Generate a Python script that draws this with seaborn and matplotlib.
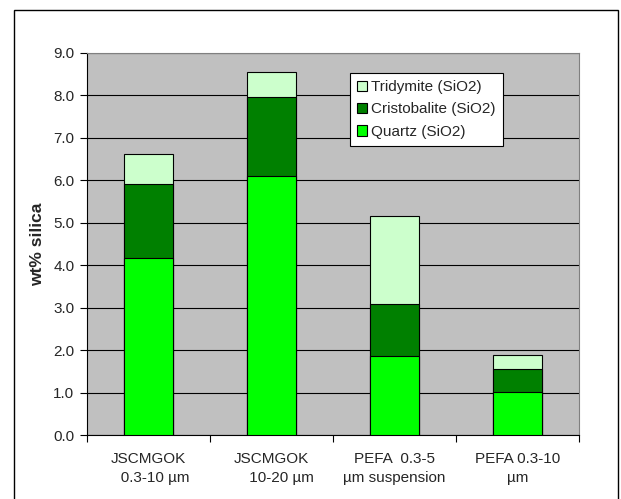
import numpy as np
import pandas as pd
import matplotlib
matplotlib.use("Agg")
import matplotlib.pyplot as plt
import seaborn as sns
from matplotlib.patches import Rectangle

# =========================
# Data
# =========================
categories = ["JSCMGOK\n   0.3-10 µm", "JSCMGOK\n     10-20 µm",
              "PEFA  0.3-5\nµm suspension", "PEFA 0.3-10\nµm"]
quartz = [4.16, 6.09, 1.87, 1.01]
cristobalite = [1.75, 1.87, 1.21, 0.55]
tridymite = [0.72, 0.58, 2.09, 0.32]

df = pd.DataFrame({
    "sample": categories,
    "Quartz": quartz,
    "Cristobalite": cristobalite,
    "Tridymite": tridymite,
})
df["q_top"] = df["Quartz"]
df["c_top"] = df["q_top"] + df["Cristobalite"]
df["t_top"] = df["c_top"] + df["Tridymite"]

# =========================
# Style
# =========================
sns.set_style("white")
plt.rcParams["font.family"] = ["Liberation Sans", "DejaVu Sans"]

fig = plt.figure(figsize=(6.21, 4.99), dpi=100)
ax = fig.add_axes([0.140, 0.128, 0.792, 0.766])
ax.set_facecolor("#C0C0C0")

# stacked bars: draw the totals first, then cover with the lower parts
layers = [("t_top", "#CCFFCC", "Tridymite (SiO2)"),
          ("c_top", "#008000", "Cristobalite (SiO2)"),
          ("q_top", "#00FF00", "Quartz (SiO2)")]
for col, colour, lab in layers:
    sns.barplot(data=df, x="sample", y=col, color=colour, width=0.4,
                edgecolor="black", linewidth=0.8, saturation=1,
                label=lab, ax=ax, zorder=3)

# =========================
# Axes
# =========================
ax.set_ylim(0, 9)
ax.set_xlim(-0.5, 3.5)
ax.set_yticks(np.arange(0, 9.1, 1))
ax.set_yticklabels([f"{v:.1f}" for v in np.arange(0, 9.1, 1)], fontsize=11)
ax.yaxis.grid(True, color="black", linewidth=0.8, zorder=0)
ax.set_axisbelow(True)

ax.set_xticks(np.arange(-0.5, 3.6, 1), minor=True)
ax.set_xticks(range(4))
ax.set_xticklabels(categories, fontsize=11, linespacing=1.45)
ax.tick_params(axis="x", which="major", length=0, pad=12)
ax.tick_params(axis="x", which="minor", length=5, width=0.8, color="black",
               direction="out", bottom=True)
ax.tick_params(axis="y", length=5, width=0.8, color="black",
               direction="out", left=True, pad=4)

ax.set_xlabel("")
ax.set_ylabel("wt% silica", fontsize=12.5, fontweight="bold", labelpad=6)

for side in ["left", "bottom"]:
    ax.spines[side].set_color("black")
    ax.spines[side].set_linewidth(0.8)
for side in ["top", "right"]:
    ax.spines[side].set_color("#808080")
    ax.spines[side].set_linewidth(0.8)

leg = ax.legend(loc="upper left", bbox_to_anchor=(0.535, 0.947),
                fontsize=11, frameon=True, fancybox=False, edgecolor="black",
                framealpha=1, handlelength=0.65, handleheight=0.65,
                handletextpad=0.3, borderpad=0.45, labelspacing=0.55,
                borderaxespad=0)
leg.get_frame().set_linewidth(0.8)

# outer chart frame (Excel style)
fig.patches.append(Rectangle((14 / 621, -0.05), (618 - 14) / 621, 1.05 - 10 / 499,
                             transform=fig.transFigure, fill=False,
                             edgecolor="black", linewidth=1.0))

fig.savefig("out.png", dpi=100)
